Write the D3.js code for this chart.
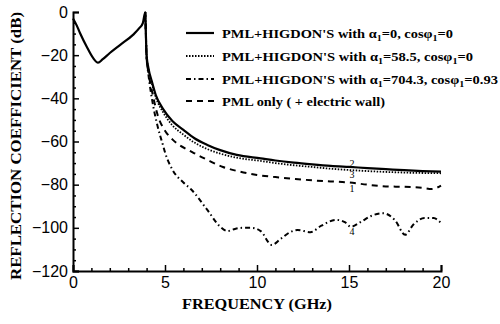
<!DOCTYPE html>
<html><head><meta charset="utf-8">
<script src="https://cdn.jsdelivr.net/npm/d3@7"></script>
<style>body{margin:0;background:#fff}svg{display:block}</style>
</head><body>
<svg id="c" width="500" height="324"></svg>
<script>
// ---- data (frequency GHz, reflection dB) ----
const xTicks = [0, 5, 10, 15, 20];
const yTicks = [0, -20, -40, -60, -80, -100, -120];
const lowBand = [[0,-3],[0.2,-6.2],[0.38,-9.7],[0.74,-16],[1.1,-21.4],[1.36,-23.5],[1.6,-22],[2.0,-19],[2.55,-15.3],[3.26,-10.6],[3.6,-7.5],[3.8,-5],[3.93,0]];
const solidA0 = [[3.93,0],[3.96,-10],[4.0,-20],[4.1,-26],[4.28,-32],[4.5,-38.5],[4.9,-45],[5.4,-50.5],[6.0,-54.6],[6.6,-58.5],[7.3,-61.6],[8.0,-64],[8.9,-66.2],[10.2,-67.8],[11,-68.8],[12,-69.8],[13,-70.6],[14,-71.3],[15,-71.8],[16,-72.3],[17,-72.8],[18,-73.3],[19,-73.7],[20,-74]];
const dottedA58 = [[3.93,0],[3.96,-10],[4.0,-20],[4.1,-26.5],[4.28,-33],[4.5,-39.5],[4.9,-46.5],[5.4,-52.5],[6.0,-56.8],[6.6,-60.5],[7.3,-63.5],[8.0,-65.6],[8.9,-67.5],[10.2,-69],[11,-70],[12,-71],[13,-71.8],[14,-72.6],[15,-73.2],[16,-73.7],[17,-74.1],[18,-74.4],[19,-74.6],[20,-74.7]];
const dashDotA704 = [[3.93,0],[3.96,-10],[4.0,-21],[4.1,-29],[4.3,-40.7],[4.6,-53],[4.9,-62],[5.0,-65],[5.4,-73],[6.0,-79],[6.4,-82],[7.3,-91.7],[8.0,-99.5],[8.4,-101.5],[8.8,-100.5],[9.2,-100],[9.7,-100],[10.2,-101.5],[10.8,-107.9],[11.3,-105],[11.8,-102],[12.2,-101],[12.9,-102],[13.5,-99],[14.3,-96.3],[14.8,-97.5],[15.1,-99.5],[15.6,-97.5],[16.2,-94.5],[16.85,-93.2],[17.5,-96.5],[18.05,-103.2],[18.5,-98.5],[19.1,-95.4],[19.6,-95.5],[20,-97.7]];
const dashedPML = [[3.93,0],[3.96,-10],[4.0,-21],[4.1,-28],[4.3,-37],[4.6,-47.7],[5.0,-55],[5.4,-59],[6.5,-65],[7.3,-68.5],[8.15,-71.8],[9.1,-74],[10,-75.5],[11,-76.5],[12,-77.3],[13,-78],[14,-78.5],[15,-79],[16,-80],[17,-80.8],[18,-81],[19,-81.5],[19.5,-82],[20,-80.4]];
const curveTags = [["2",15,-71.8],["3",15,-77],["1",15,-83.4],["4",15,-103.3]];

const svg = d3.select("#c");
const x = d3.scaleLinear().domain([0,20]).range([73,441]);
const y = d3.scaleLinear().domain([-120,0]).range([271,12]);
const serif = "'Liberation Serif','Times New Roman',serif";
const sans = "'Liberation Sans',Arial,sans-serif";

// axes
const yAxis = d3.axisLeft(y).tickValues(yTicks).tickSize(-6).tickPadding(5).tickFormat(d3.format("d"));
svg.append("g").attr("transform","translate(73,0)").call(yAxis);
const yMinor = d3.axisLeft(y).tickValues(d3.range(-120,1,5).filter(v=>v%20!==0)).tickSize(-3).tickFormat("");
svg.append("g").attr("transform","translate(73,0)").call(yMinor).select(".domain").remove();
const xAxis = d3.axisBottom(x).tickValues(xTicks).tickSize(-6).tickPadding(6).tickFormat(d3.format("d"));
svg.append("g").attr("transform","translate(0,271)").call(xAxis);
const xMinor = d3.axisBottom(x).tickValues(d3.range(1,20).filter(v=>v%5!==0)).tickSize(-3).tickFormat("");
svg.append("g").attr("transform","translate(0,271)").call(xMinor).select(".domain").remove();
svg.selectAll(".domain").attr("stroke","#000").attr("stroke-width",2);
svg.selectAll(".tick line").attr("stroke","#000").attr("stroke-width",1.5);
svg.selectAll(".tick text").attr("font-family",sans).attr("font-size",16).attr("fill","#000");

// axis titles
svg.append("text").attr("x",257).attr("y",309).attr("text-anchor","middle").attr("fill","#000")
  .attr("font-family",serif).attr("font-weight","bold").attr("font-size",15)
  .attr("textLength",150).attr("lengthAdjust","spacingAndGlyphs").text("FREQUENCY (GHz)");
svg.append("text").attr("transform","translate(21,146) rotate(-90)").attr("text-anchor","middle").attr("fill","#000")
  .attr("font-family",serif).attr("font-weight","bold").attr("font-size",14)
  .attr("textLength",268).attr("lengthAdjust","spacingAndGlyphs").text("REFLECTION COEFFICIENT (dB)");

// lines
const line = d3.line().x(d=>x(d[0])).y(d=>y(d[1])).curve(d3.curveMonotoneX);
const series = [
  {data: dashedPML, dash:"6,5", w:2},
  {data: dashDotA704, dash:"5,3,1.5,3", w:2},
  {data: dottedA58, dash:"1.5,1.5", w:1.8},
  {data: lowBand.concat(solidA0.slice(1)), dash:null, w:2.2}
];
series.forEach(s=>{
  svg.append("path").attr("d",line(s.data)).attr("fill","none").attr("stroke","#000")
    .attr("stroke-width",s.w).attr("stroke-dasharray",s.dash);
});

// curve tags
svg.selectAll(".tag").data(curveTags).enter().append("text")
  .attr("x",d=>x(d[1])+3).attr("y",d=>y(d[2])).attr("text-anchor","middle").attr("fill","#000")
  .attr("font-family",serif).attr("font-size",10).text(d=>d[0]);

// legend
const legend = [
  {dash:null, w:2.2, parts:[["PML+HIGDON'S with α"],["1",1],["=0, cosφ"],["1",1],["=0"]], len:231},
  {dash:"1.5,1.5", w:1.8, parts:[["PML+HIGDON'S with α"],["1",1],["=58.5, cosφ"],["1",1],["=0"]], len:251},
  {dash:"5,3,1.5,3", w:2, parts:[["PML+HIGDON'S with α"],["1",1],["=704.3, cosφ"],["1",1],["=0.93"]], len:276},
  {dash:"6,5", w:2, parts:[["PML only ( + electric wall)"]], len:163}
];
const rowY = [33, 56, 79, 101];
legend.forEach((l,i)=>{
  svg.append("line").attr("x1",186).attr("x2",214).attr("y1",rowY[i]).attr("y2",rowY[i])
    .attr("stroke","#000").attr("stroke-width",l.w).attr("stroke-dasharray",l.dash);
  const t = svg.append("text").attr("x",222).attr("y",rowY[i]+4.5).attr("fill","#000")
    .attr("font-family",serif).attr("font-weight","bold").attr("font-size",13)
    .attr("textLength",l.len).attr("lengthAdjust","spacingAndGlyphs");
  l.parts.forEach(p=>{
    const ts = t.append("tspan").text(p[0]);
    if(p[1]) ts.attr("font-size",9).attr("dy",3);
    else if (t.selectAll("tspan").size()>1) ts.attr("dy",-3);
  });
});
</script>
</body></html>
